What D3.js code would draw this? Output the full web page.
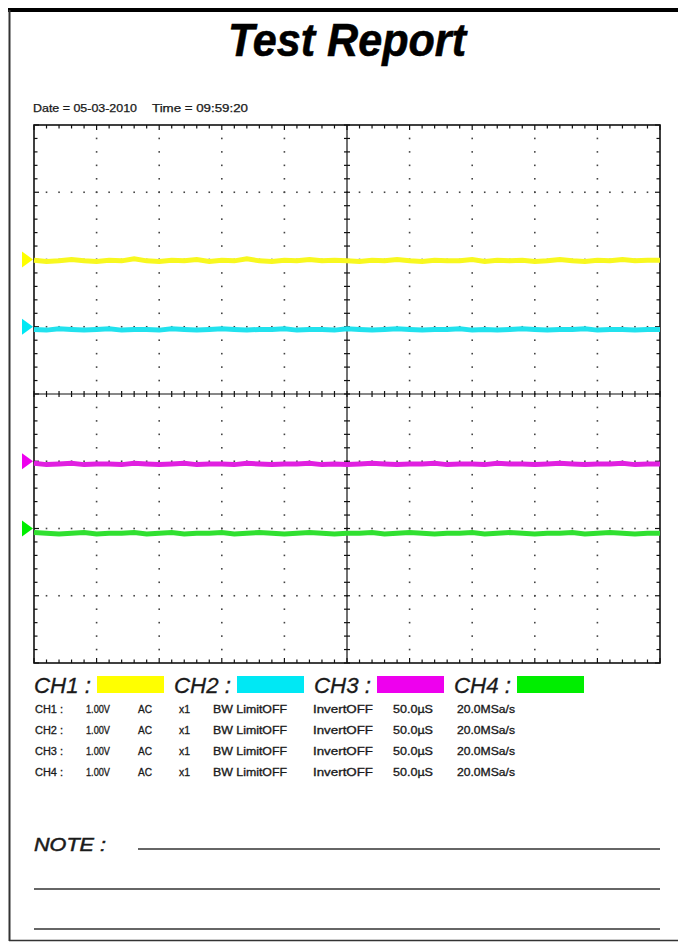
<!DOCTYPE html>
<html><head><meta charset="utf-8">
<script src="https://cdn.jsdelivr.net/npm/d3@7"></script>
<style>html,body{margin:0;padding:0;background:#fff;}svg{display:block;}</style>
</head><body>
<svg id="c" width="678" height="942"></svg>
<script>
// ---------- data ----------
const title = "Test Report";
const dateText = "Date = 05-03-2010";
const timeText = "Time = 09:59:20";
const channels = ["CH1", "CH2", "CH3", "CH4"];
const channelColors = ["#ffff00", "#00e8f4", "#ee00ee", "#00ee00"];
const traceColors = ["#f8f820", "#22e2ee", "#e020e0", "#30e030"];
// ground markers (divisions from centre)
const markerLevels = [2.0, 1.0, -1.0, -2.0];
// horizontal sample positions (divisions 0..10)
const samplePos = d3.range(51).map(i => i / 5);
const ch1Trace = [1.99,1.97,1.98,2.00,1.98,1.97,1.99,1.98,2.01,1.98,1.97,1.99,1.98,2.00,1.97,1.99,1.98,2.01,1.98,1.97,1.99,1.98,2.00,1.98,1.99,1.98,1.97,1.99,1.98,2.00,1.98,1.97,1.99,1.98,1.98,2.00,1.97,1.99,1.98,1.99,1.97,1.98,2.00,1.98,1.97,1.99,1.98,2.00,1.98,1.99,1.99];
const ch2Trace = [0.96,0.95,0.97,0.96,0.95,0.96,0.97,0.95,0.96,0.96,0.95,0.97,0.96,0.95,0.96,0.97,0.96,0.95,0.96,0.96,0.97,0.95,0.96,0.96,0.95,0.97,0.96,0.95,0.96,0.97,0.96,0.95,0.96,0.96,0.97,0.95,0.96,0.95,0.96,0.97,0.96,0.95,0.96,0.96,0.97,0.95,0.96,0.96,0.95,0.96,0.96];
const ch3Trace = [-1.03,-1.05,-1.04,-1.03,-1.05,-1.04,-1.04,-1.05,-1.03,-1.04,-1.05,-1.04,-1.03,-1.05,-1.04,-1.04,-1.05,-1.03,-1.04,-1.05,-1.04,-1.04,-1.03,-1.05,-1.04,-1.05,-1.04,-1.03,-1.04,-1.05,-1.04,-1.04,-1.03,-1.05,-1.04,-1.04,-1.05,-1.03,-1.04,-1.04,-1.05,-1.04,-1.03,-1.04,-1.05,-1.04,-1.04,-1.03,-1.05,-1.04,-1.04];
const ch4Trace = [-2.06,-2.07,-2.08,-2.07,-2.06,-2.08,-2.07,-2.07,-2.06,-2.08,-2.07,-2.06,-2.08,-2.07,-2.07,-2.06,-2.08,-2.07,-2.06,-2.07,-2.08,-2.07,-2.06,-2.07,-2.08,-2.07,-2.07,-2.06,-2.08,-2.07,-2.06,-2.07,-2.08,-2.07,-2.07,-2.06,-2.08,-2.07,-2.06,-2.07,-2.08,-2.07,-2.07,-2.06,-2.08,-2.07,-2.06,-2.07,-2.08,-2.07,-2.07];
const traces = [ch1Trace, ch2Trace, ch3Trace, ch4Trace];
// settings table
const voltsDiv = ["1.00V", "1.00V", "1.00V", "1.00V"];
const coupling = ["AC", "AC", "AC", "AC"];
const probe = ["x1", "x1", "x1", "x1"];
const bwLimit = ["BW LimitOFF", "BW LimitOFF", "BW LimitOFF", "BW LimitOFF"];
const invert = ["InvertOFF", "InvertOFF", "InvertOFF", "InvertOFF"];
const timeDiv = ["50.0µS", "50.0µS", "50.0µS", "50.0µS"];
const sampleRate = ["20.0MSa/s", "20.0MSa/s", "20.0MSa/s", "20.0MSa/s"];
const noteLabel = "NOTE :";

// ---------- layout ----------
const svg = d3.select("#c");
const L = 34, R = 660, T = 125, B = 663;
const x = d3.scaleLinear().domain([0, 10]).range([L, R]);
const y = d3.scaleLinear().domain([-4, 4]).range([B, T]);
const ink = "#1a1a1a";
const small = "Liberation Sans, Arial, sans-serif";

// page frame
svg.append("rect").attr("x", 8).attr("y", 8).attr("width", 670).attr("height", 4).attr("fill", "#000");
svg.append("line").attr("x1", 9.5).attr("x2", 9.5).attr("y1", 10).attr("y2", 941).attr("stroke", "#333").attr("stroke-width", 2);
svg.append("line").attr("x1", 9).attr("x2", 678).attr("y1", 940.5).attr("y2", 940.5).attr("stroke", "#333").attr("stroke-width", 1.5);

// title
svg.append("text").attr("x", 347).attr("y", 56).attr("text-anchor", "middle")
  .attr("font-family", small).attr("font-weight", "bold").attr("font-style", "italic")
  .attr("font-size", 47).attr("textLength", 238).attr("lengthAdjust", "spacingAndGlyphs")
  .attr("fill", "#000").attr("stroke", "#000").attr("stroke-width", 0.6).text(title);

// date/time
svg.append("text").attr("x", 33).attr("y", 112).attr("font-family", small).attr("font-size", 10)
  .attr("textLength", 104).attr("lengthAdjust", "spacingAndGlyphs").attr("fill", ink)
  .attr("stroke", ink).attr("stroke-width", 0.25).text(dateText);
svg.append("text").attr("x", 152).attr("y", 112).attr("font-family", small).attr("font-size", 10)
  .attr("textLength", 96).attr("lengthAdjust", "spacingAndGlyphs").attr("fill", ink)
  .attr("stroke", ink).attr("stroke-width", 0.25).text(timeText);

// ---------- graticule ----------
const g = svg.append("g");
const minorX = d3.range(0, 50.001, 1).map(i => i / 5);
const minorY = d3.range(0, 40.001, 1).map(i => -4 + i / 5);
const dots = [];
d3.range(1, 10).filter(d => d !== 5).forEach(d => {
  minorY.forEach(v => { if (v > -4 && v < 4) dots.push([x(d), y(v)]); });
});
d3.range(-3, 4).filter(d => d !== 0).forEach(d => {
  minorX.forEach(u => { if (u > 0 && u < 10) dots.push([x(u), y(d)]); });
});
g.selectAll("rect.dot").data(dots).enter().append("rect").attr("class", "dot")
  .attr("x", d => d[0] - 0.8).attr("y", d => d[1] - 0.8).attr("width", 1.6).attr("height", 1.6).attr("fill", "#444");

g.append("line").attr("x1", x(5)).attr("x2", x(5)).attr("y1", T).attr("y2", B).attr("stroke", "#111").attr("stroke-width", 1.2);
g.append("line").attr("x1", L).attr("x2", R).attr("y1", y(0)).attr("y2", y(0)).attr("stroke", "#111").attr("stroke-width", 1.2);
g.selectAll("line.cxt").data(minorY).enter().append("line").attr("class", "cxt")
  .attr("x1", x(5) - 3).attr("x2", x(5) + 3).attr("y1", d => y(d)).attr("y2", d => y(d)).attr("stroke", "#111").attr("stroke-width", 1.2);
g.selectAll("line.cyt").data(minorX).enter().append("line").attr("class", "cyt")
  .attr("y1", y(0) - 3).attr("y2", y(0) + 3).attr("x1", d => x(d)).attr("x2", d => x(d)).attr("stroke", "#111").attr("stroke-width", 1.2);

const isMajor = v => Math.abs(v - Math.round(v)) < 1e-6;
g.selectAll("line.tt").data(minorX).enter().append("line")
  .attr("x1", d => x(d)).attr("x2", d => x(d)).attr("y1", T).attr("y2", d => T + (isMajor(d) ? 5 : 3.5)).attr("stroke", "#111").attr("stroke-width", 1.2);
g.selectAll("line.bt").data(minorX).enter().append("line")
  .attr("x1", d => x(d)).attr("x2", d => x(d)).attr("y1", B).attr("y2", d => B - (isMajor(d) ? 5 : 3.5)).attr("stroke", "#111").attr("stroke-width", 1.2);
g.selectAll("line.lt").data(minorY).enter().append("line")
  .attr("y1", d => y(d)).attr("y2", d => y(d)).attr("x1", L).attr("x2", d => L + (isMajor(d) ? 5 : 3.5)).attr("stroke", "#111").attr("stroke-width", 1.2);
g.selectAll("line.rt").data(minorY).enter().append("line")
  .attr("y1", d => y(d)).attr("y2", d => y(d)).attr("x1", R).attr("x2", d => R - (isMajor(d) ? 5 : 3.5)).attr("stroke", "#111").attr("stroke-width", 1.2);
g.append("rect").attr("x", L).attr("y", T).attr("width", R - L).attr("height", B - T)
  .attr("fill", "none").attr("stroke", "#111").attr("stroke-width", 1.6);

// ---------- traces ----------
const line = d3.line().x((d, i) => x(samplePos[i])).y(d => y(d));
traces.forEach((tr, k) => {
  svg.append("path").attr("d", line(tr)).attr("fill", "none").attr("stroke", traceColors[k])
    .attr("stroke-width", 5).attr("stroke-linejoin", "miter");
});
markerLevels.forEach((lv, k) => {
  const my = y(lv);
  svg.append("path").attr("d", `M22,${my - 8}L33,${my}L22,${my + 8}Z`).attr("fill", channelColors[k]);
});

// ---------- legend ----------
channels.forEach((c, k) => {
  const gx = 34 + k * 140;
  svg.append("text").attr("x", gx).attr("y", 693).attr("font-family", small).attr("font-style", "italic")
    .attr("font-size", 22).attr("textLength", 57).attr("lengthAdjust", "spacingAndGlyphs").attr("fill", ink)
    .attr("stroke", ink).attr("stroke-width", 0.3).text(c + " :");
  svg.append("rect").attr("x", gx + 63).attr("y", 676).attr("width", 67).attr("height", 17).attr("fill", channelColors[k]);
});

// ---------- settings table ----------
const cols = [
  {vals: channels.map(c => c + " :"), x: 35, w: 28},
  {vals: voltsDiv, x: 86, w: 24},
  {vals: coupling, x: 138, w: 14},
  {vals: probe, x: 179, w: 11},
  {vals: bwLimit, x: 213, w: 74},
  {vals: invert, x: 313, w: 60},
  {vals: timeDiv, x: 393, w: 40},
  {vals: sampleRate, x: 457, w: 58}
];
const rowY = [713, 734, 755, 776];
cols.forEach(col => {
  col.vals.forEach((v, r) => {
    svg.append("text").attr("x", col.x).attr("y", rowY[r]).attr("font-family", small).attr("font-size", 10)
      .attr("textLength", col.w).attr("lengthAdjust", "spacingAndGlyphs").attr("fill", ink)
      .attr("stroke", ink).attr("stroke-width", 0.3).text(v);
  });
});

// ---------- note ----------
svg.append("text").attr("x", 34).attr("y", 851).attr("font-family", small).attr("font-style", "italic")
  .attr("font-size", 19).attr("textLength", 72).attr("lengthAdjust", "spacingAndGlyphs").attr("fill", ink)
  .attr("stroke", ink).attr("stroke-width", 0.5).text(noteLabel);
[[138, 849], [34, 889], [34, 929]].forEach(p => {
  svg.append("line").attr("x1", p[0]).attr("x2", 660).attr("y1", p[1]).attr("y2", p[1]).attr("stroke", "#333").attr("stroke-width", 1.5);
});
</script>
</body></html>
